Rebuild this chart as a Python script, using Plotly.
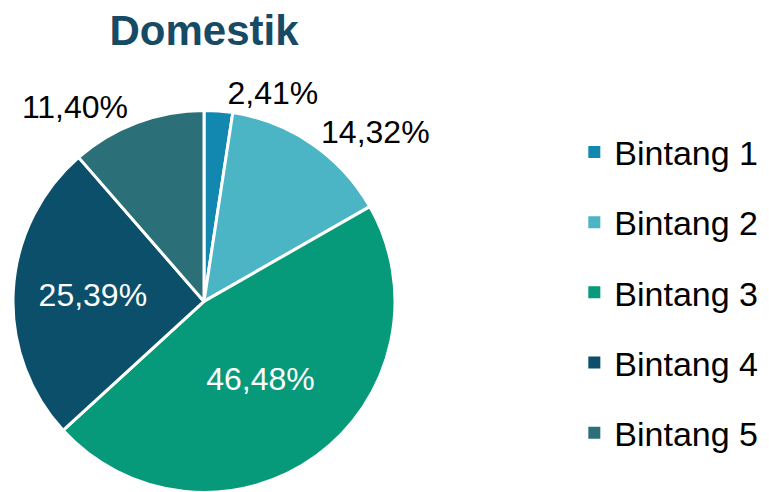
import plotly.graph_objects as go

labels = ["Bintang 1", "Bintang 2", "Bintang 3", "Bintang 4", "Bintang 5"]
values = [2.41, 14.32, 46.48, 25.39, 11.40]
colors = ["#1287b0", "#4bb4c5", "#06997a", "#0b4f6a", "#2b7079"]
positions = ["outside", "outside", "inside", "inside", "outside"]

text = [f"{v:.2f}%".replace(".", ",") for v in values]

fig = go.Figure()
fig.add_trace(go.Pie(
    labels=labels,
    values=values,
    text=text,
    textinfo="text",
    textposition=positions,
    insidetextfont=dict(color="white", size=32),
    outsidetextfont=dict(color="black", size=32),
    sort=False,
    direction="clockwise",
    marker=dict(colors=colors, line=dict(color="white", width=3)),
    domain=dict(x=[0, 0.5], y=[0, 0.79]),
    showlegend=False,
))

# legend entries with custom spacing
for lab, col in zip(labels, colors):
    fig.add_trace(go.Scatter(
        x=[None], y=[None], mode="markers", name=lab,
        marker=dict(symbol="square", size=12, color=col),
        legendgroup=lab,
    ))

fig.update_xaxes(visible=False)
fig.update_yaxes(visible=False)
fig.update_layout(
    width=769, height=492,
    margin=dict(l=0, r=0, t=0, b=0),
    paper_bgcolor="white", plot_bgcolor="white",
    font=dict(family="Liberation Sans, Arial", size=24, color="black"),
    title=dict(text="<b>Domestik</b>", x=196 / 769, xanchor="center",
               y=1 - 22 / 492, yanchor="middle",
               font=dict(size=42, color="#174a64")),
    legend=dict(x=565 / 769, xanchor="left", y=1 - 117 / 492, yanchor="top",
                tracegroupgap=23, itemsizing="constant",
                font=dict(size=34), bgcolor="rgba(0,0,0,0)"),
)

fig.write_html("out.html")
